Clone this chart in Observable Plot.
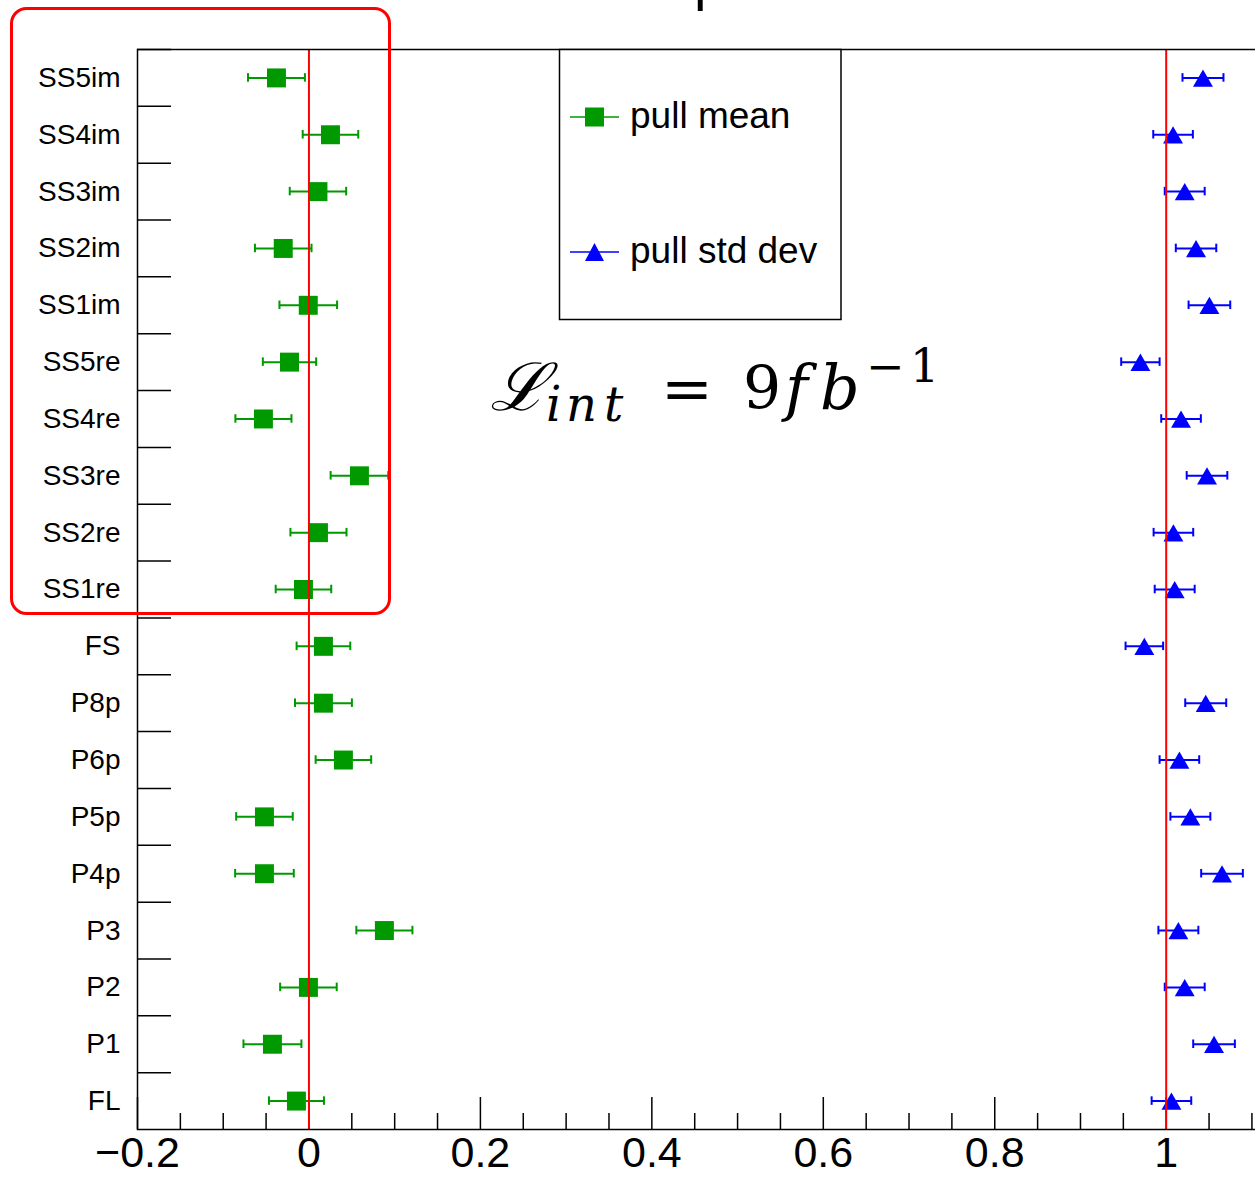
<!DOCTYPE html>
<html>
<head>
<meta charset="utf-8">
<script src="https://cdn.jsdelivr.net/npm/d3@7"></script>
<script src="https://cdn.jsdelivr.net/npm/@observablehq/plot@0.6"></script>
<style>
  html, body { margin: 0; padding: 0; background: #fff; overflow: hidden; }
  #wrap { position: relative; width: 1255px; height: 1178px; overflow: hidden; }
  #chart svg { max-width: none !important; }
  #overlay { position: absolute; left: 0; top: 0; pointer-events: none; }
</style>
</head>
<body>
<div id="wrap">
  <div id="chart"></div>
  <svg id="overlay" width="1255" height="1178" xmlns="http://www.w3.org/2000/svg"></svg>
</div>
<script>
// ---- data (bottom to top) ----
const categories = ["FL","P1","P2","P3","P4p","P5p","P6p","P8p","FS",
  "SS1re","SS2re","SS3re","SS4re","SS5re","SS1im","SS2im","SS3im","SS4im","SS5im"];
const pullMean = [-0.0146,-0.0426,-0.0006,0.0880,-0.0519,-0.0519,0.0402,0.0169,0.0169,
  -0.0064,0.0111,0.0589,-0.0531,-0.0227,-0.0008,-0.0300,0.0105,0.0251,-0.0379];
const pullMeanErr = [0.0321,0.0338,0.0330,0.0327,0.0342,0.0330,0.0324,0.0332,0.0313,
  0.0324,0.0327,0.0336,0.0327,0.0311,0.0336,0.0330,0.0329,0.0324,0.0332];
const pullStd = [1.0061,1.0558,1.0216,1.0142,1.0651,1.0282,1.0154,1.0461,0.9745,
  1.0099,1.0084,1.0476,1.0173,0.9699,1.0504,1.0348,1.0216,1.0080,1.0429];
const pullStdErr = [0.0231,0.0243,0.0233,0.0233,0.0243,0.0233,0.0231,0.0239,0.0219,
  0.0233,0.0231,0.0237,0.0231,0.0224,0.0243,0.0236,0.0233,0.0231,0.0239];
const majorTicks = [-0.2, 0, 0.2, 0.4, 0.6, 0.8, 1.0];
const minorTicks = [-0.15,-0.1,-0.05,0.05,0.1,0.15,0.25,0.3,0.35,0.45,0.5,0.55,
  0.65,0.7,0.75,0.85,0.9,0.95,1.05,1.1];
const referenceLines = [0, 1];
const legendLabels = ["pull mean", "pull std dev"];

// ---- layout ----
const W = 1260, H = 1178, mL = 137, mT = 49, mB = 49;
const plotW = W - mL, plotH = H - mT - mB;
const green = "#009900", blue = "#0000ff";
const font = "'Liberation Sans', Arial, Helvetica, sans-serif";

const rows = categories.map((c, i) => ({
  i, c, m: pullMean[i], me: pullMeanErr[i], s: pullStd[i], se: pullStdErr[i]
}));
const boundaries = d3.range(categories.length).map(i => i + 0.5);
const fmt = d => d < 0 ? "\u2212" + String(Math.abs(d)) : String(d);
const cap = 0.075;

const chart = Plot.plot({
  width: W, height: H,
  marginLeft: mL, marginRight: 0, marginTop: mT, marginBottom: mB,
  style: {fontFamily: font, color: "#000", background: "white", maxWidth: "none"},
  x: {domain: [-0.2, 1.11]},
  y: {domain: [-0.5, categories.length - 0.5]},
  marks: [
    Plot.tickX(majorTicks, {x: d => d, insetTop: plotH - 32, stroke: "#000", strokeWidth: 1.5}),
    Plot.tickX(minorTicks, {x: d => d, insetTop: plotH - 16, stroke: "#000", strokeWidth: 1.5}),
    Plot.tickY(boundaries, {y: d => d, insetRight: plotW - 34, stroke: "#000", strokeWidth: 1.5}),
    Plot.axisX({ticks: majorTicks, tickSize: 0, tickPadding: 7, fontSize: 43, tickFormat: fmt, label: null}),
    Plot.axisY({ticks: d3.range(categories.length), tickSize: 0, tickPadding: 17, fontSize: 28,
      tickFormat: i => categories[i], label: null}),
    // pull mean error bars
    Plot.link(rows, {x1: d => d.m - d.me, x2: d => d.m + d.me, y1: "i", y2: "i", stroke: green, strokeWidth: 2}),
    Plot.ruleX(rows, {x: d => d.m - d.me, y1: d => d.i - cap, y2: d => d.i + cap, stroke: green, strokeWidth: 2}),
    Plot.ruleX(rows, {x: d => d.m + d.me, y1: d => d.i - cap, y2: d => d.i + cap, stroke: green, strokeWidth: 2}),
    Plot.dot(rows, {x: "m", y: "i", symbol: "square", r: 10.7, fill: green, stroke: null}),
    // pull std dev error bars
    Plot.link(rows, {x1: d => d.s - d.se, x2: d => d.s + d.se, y1: "i", y2: "i", stroke: blue, strokeWidth: 2}),
    Plot.ruleX(rows, {x: d => d.s - d.se, y1: d => d.i - cap, y2: d => d.i + cap, stroke: blue, strokeWidth: 2}),
    Plot.ruleX(rows, {x: d => d.s + d.se, y1: d => d.i - cap, y2: d => d.i + cap, stroke: blue, strokeWidth: 2}),
    Plot.dot(rows, {x: "s", y: "i", symbol: "triangle", r: 7.4, fill: blue, stroke: null, dy: 3}),
    Plot.ruleX(referenceLines, {x: d => d, stroke: "#ff0000", strokeWidth: 2}),
    Plot.frame({stroke: "#000", strokeWidth: 1.5})
  ]
});
document.getElementById("chart").appendChild(chart);

// ---- overlay: legend, luminosity label, annotation box, clipped title ----
const ov = d3.select("#overlay");
// clipped title glyph at the very top
ov.append("text").attr("x", 694).attr("y", -1).attr("font-family", font).attr("font-size", 56).text("p");

// legend
const lg = ov.append("g");
lg.append("rect").attr("x", 559.5).attr("y", 49.5).attr("width", 281.5).attr("height", 270)
  .attr("fill", "white").attr("stroke", "#000").attr("stroke-width", 1.5);
lg.append("line").attr("x1", 570).attr("x2", 619).attr("y1", 117).attr("y2", 117).attr("stroke", green).attr("stroke-width", 1.5);
lg.append("rect").attr("x", 585).attr("y", 107.5).attr("width", 19).attr("height", 19).attr("fill", green);
lg.append("text").attr("x", 630).attr("y", 128).attr("font-family", font).attr("font-size", 37).text(legendLabels[0]);
lg.append("line").attr("x1", 570).attr("x2", 619).attr("y1", 252).attr("y2", 252).attr("stroke", blue).attr("stroke-width", 1.5);
lg.append("path").attr("d", "M594.5,243 L604,261 L585,261 Z").attr("fill", blue);
lg.append("text").attr("x", 630).attr("y", 263).attr("font-family", font).attr("font-size", 37).text(legendLabels[1]);

// luminosity label
const serif = "'DejaVu Serif', 'Liberation Serif', serif";
const mt = ov.append("text").attr("font-family", serif).attr("fill", "#000");
mt.append("tspan").attr("x", 490).attr("y", 410).attr("font-size", 66).attr("font-style", "italic")
  .attr("textLength", 58).attr("lengthAdjust", "spacingAndGlyphs").text("\u2112");
mt.append("tspan").attr("x", 546).attr("y", 421).attr("font-size", 48).attr("font-style", "italic").text("i");
mt.append("tspan").attr("x", 566).attr("y", 421).attr("font-size", 48).attr("font-style", "italic").text("n");
mt.append("tspan").attr("x", 604).attr("y", 421).attr("font-size", 48).attr("font-style", "italic").text("t");
mt.append("tspan").attr("x", 661).attr("y", 410).attr("font-size", 62).text("=");
mt.append("tspan").attr("x", 743).attr("y", 409).attr("font-size", 60).text("9");
mt.append("tspan").attr("x", 785).attr("y", 409).attr("font-size", 62).attr("font-style", "italic").text("f");
mt.append("tspan").attr("x", 820).attr("y", 409).attr("font-size", 62).attr("font-style", "italic").text("b");
mt.append("tspan").attr("x", 866).attr("y", 382).attr("font-size", 46).text("\u2212");
mt.append("tspan").attr("x", 910).attr("y", 382).attr("font-size", 46).text("1");

// red annotation box
ov.append("rect").attr("x", 11.5).attr("y", 8.5).attr("width", 378).attr("height", 605).attr("rx", 15)
  .attr("fill", "none").attr("stroke", "#ff0000").attr("stroke-width", 3);
</script>
</body>
</html>
